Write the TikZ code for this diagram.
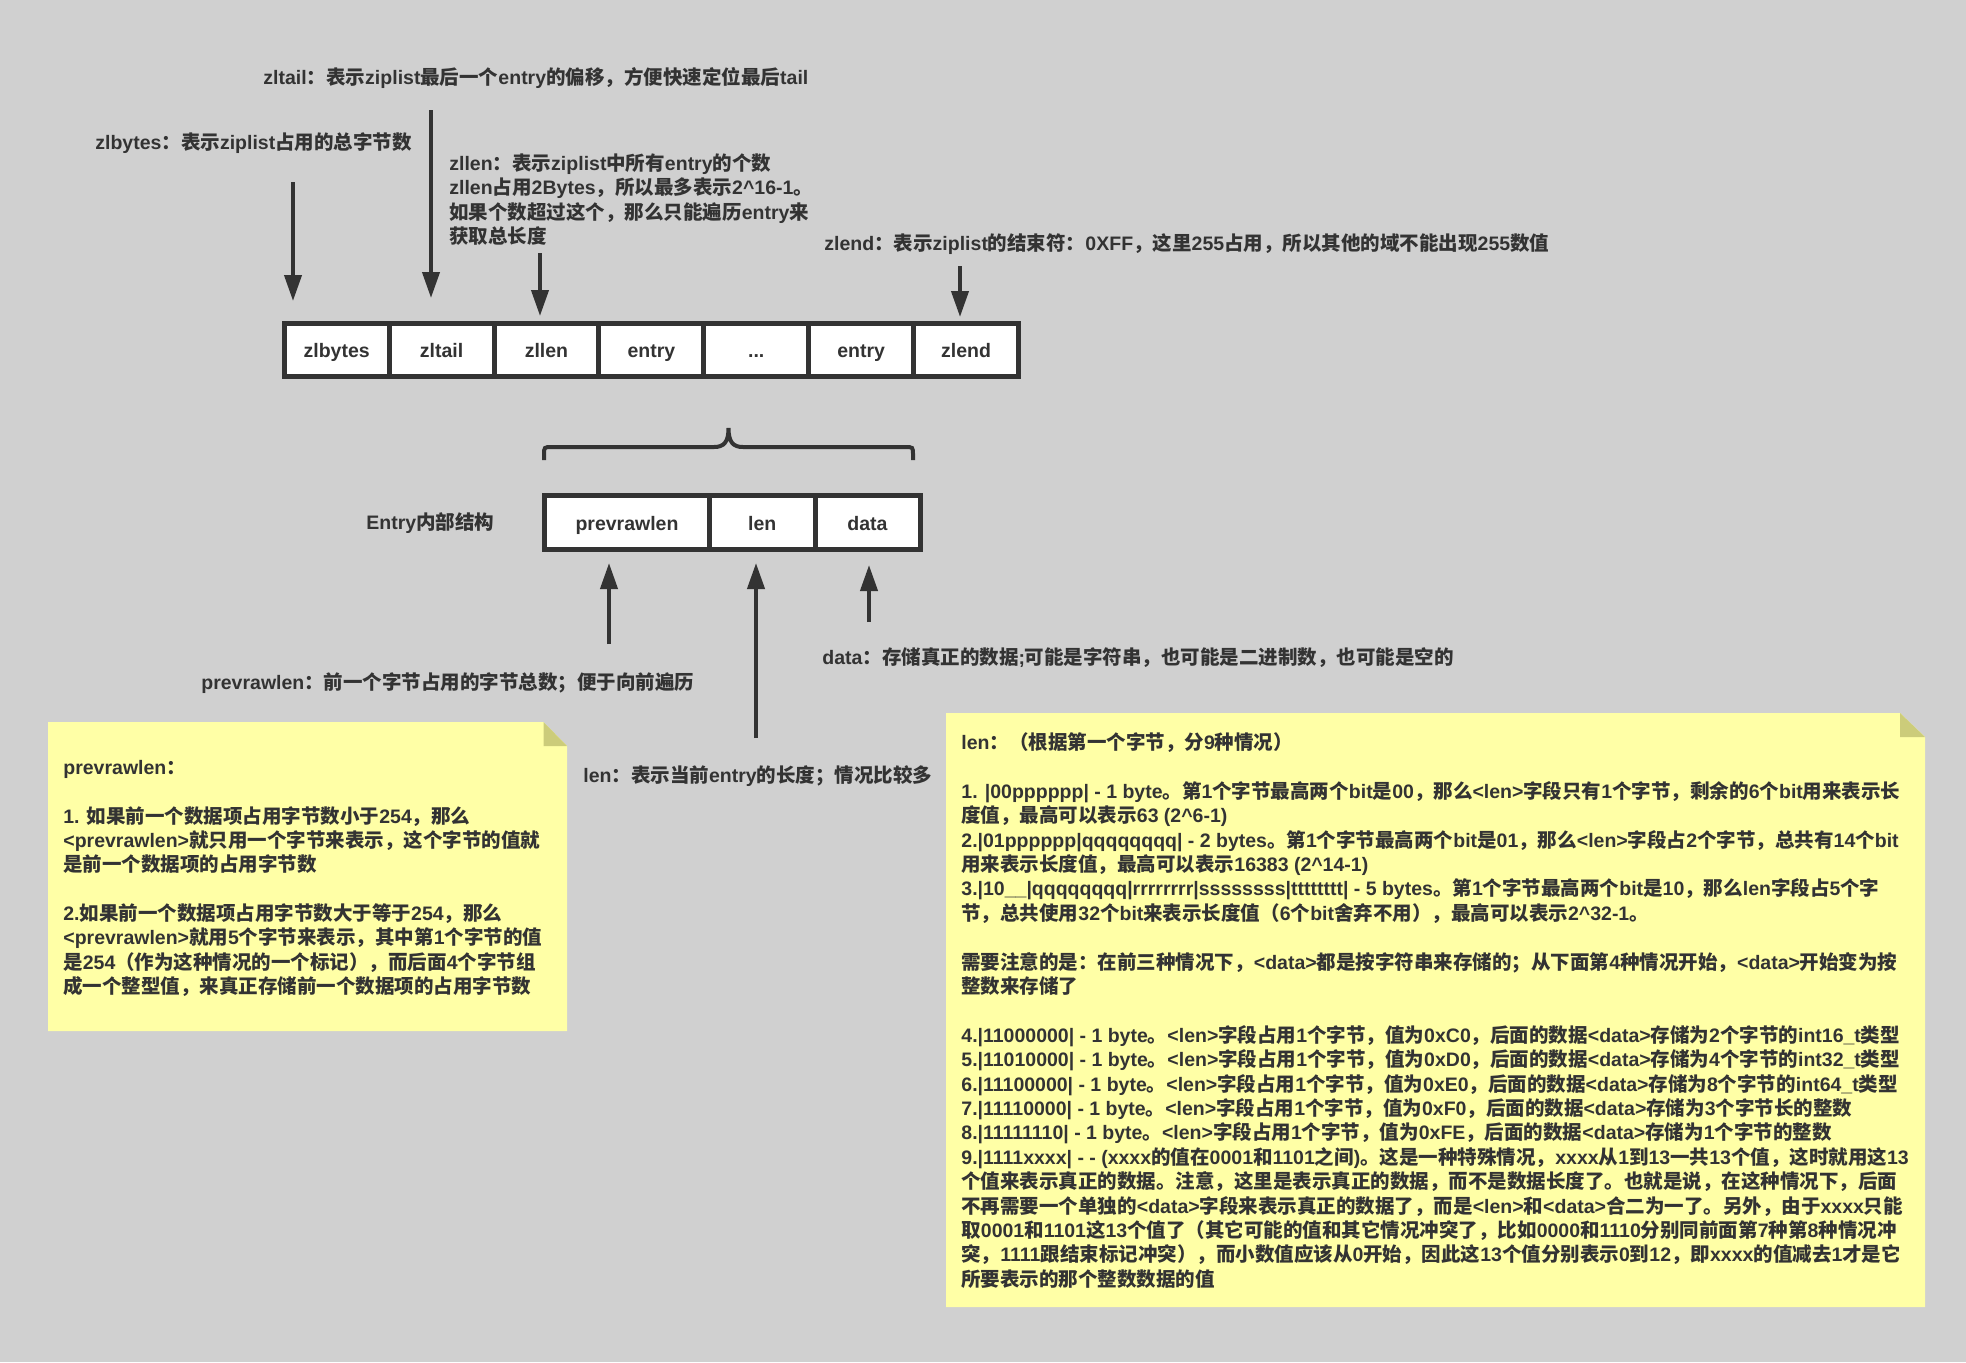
\documentclass[tikz,border=0pt]{standalone}
\usepackage{fontspec}
\setmainfont{Liberation Sans}
\newfontfamily\latinfont{Liberation Sans}
\newfontfamily\cjkfont{Noto Sans CJK SC}
\usetikzlibrary{arrows.meta,positioning}

\definecolor{ink}{RGB}{51,51,51}
\definecolor{canvas}{RGB}{208,208,208}
\definecolor{notefill}{RGB}{255,255,166}
\definecolor{notefold}{RGB}{204,204,122}

% ideographs and full-width punctuation use the CJK face
\newXeTeXintercharclass\cjkclass
\makeatletter
\newcommand\cjkrange[2]{\count@=#1\relax
  \loop\XeTeXcharclass\count@=\cjkclass
    \ifnum\count@<#2\relax\advance\count@\@ne\repeat}
\cjkrange{"3000}{"303F}
\cjkrange{"4E00}{"9FFF}
\cjkrange{"FF00}{"FFEF}
\makeatother
\XeTeXinterchartoks 0 \cjkclass = {\cjkfont}
\XeTeXinterchartoks 4095 \cjkclass = {\cjkfont}
\XeTeXinterchartoks \cjkclass 0 = {\latinfont}
\XeTeXinterchartoks 4095 0 = {\latinfont}
\XeTeXinterchartokenstate=1

\newcommand\lblfont{\fontsize{9.75}{12.2}\selectfont\bfseries}
\newcommand\firstline{\rule{0pt}{10pt}}
\newcommand\threedots{...}

\begin{document}
\begin{tikzpicture}[x=0.5pt, y=-0.5pt,
  lbl/.style={font=\lblfont, text=ink, inner sep=0pt},
  cell/.style={lbl, draw=ink, line width=2.5pt, fill=white,
    outer sep=0pt, minimum height=26.5pt, text height=9pt, text depth=1.5pt},
  arr/.style={draw=ink, line width=2pt,
    -{Triangle[length=13pt,width=8.5pt]}},
  note/.style={fill=notefill},
  fold/.style={fill=notefold}]
  \useasboundingbox (0,0) rectangle (1966,1362);
  \fill[canvas] (0,0) rectangle (1966,1362);

  % ziplist
  \foreach \n/\t [count=\i from 0] in {zlbytes/zlbytes, zltail/zltail,
      zllen/zllen, entry1/entry, dots/\threedots, entryN/entry, zlend/zlend}
    \node[cell, minimum width=52.45pt] (\n) at ({336.65+104.9*\i},350) {\t};

  \node[lbl, anchor=base west] (zltail-txt) at (263,84.5)
        {zltail：表示ziplist最后一个entry的偏移，方便快速定位最后tail};
  \node[lbl, anchor=base west] (zlbytes-txt) at (95,149)
        {zlbytes：表示ziplist占用的总字节数};
  \node[lbl, anchor=north west, align=left] (zllen-txt) at (449,150)
        {\firstline zllen：表示ziplist中所有entry的个数\\
         zllen占用2Bytes，所以最多表示2\textasciicircum16-1。\\
         如果个数超过这个，那么只能遍历entry来\\
         获取总长度};
  \node[lbl, anchor=base west] (zlend-txt) at (824,250)
        {zlend：表示ziplist的结束符：0XFF，这里255占用，所以其他的域不能出现255数值};

  \foreach \n/\x/\y/\s in {zlbytes/293/182/11.25pt, zltail/431/110/12.75pt,
      zllen/540/253/3.75pt, zlend/960/266/3.25pt} {
    \coordinate (\n-src) at (\x,\y);
    \draw[arr, shorten >=\s] (\n-src) -- (\n-src |- \n.north);
  }

  % entry layout
  \draw[ink, line width=2pt] (544,460) -- (544,455)
        .. controls (544,447) .. (552,447) -- (714,447)
        .. controls (724,447) and (728.5,442) .. (728.5,428)
        .. controls (728.5,442) and (733,447) .. (743,447) -- (905,447)
        .. controls (913,447) .. (913,455) -- (913,460);

  \node[cell, minimum width=82.5pt, minimum height=27pt] (prevrawlen)
        at (627,522.5) {prevrawlen};
  \node[cell, minimum width=52.75pt, minimum height=27pt,
        right=0pt of prevrawlen] (len) {len};
  \node[cell, minimum width=52.5pt, minimum height=27pt,
        right=0pt of len] (data) {data};
  \node[lbl, anchor=base west] (entry-txt) at (366,529) {Entry内部结构};

  \foreach \n/\x/\y/\s in {prevrawlen/609/644/6.75pt, len/756/738/6.75pt,
      data/869/622/7.75pt} {
    \coordinate (\n-src) at (\x,\y);
    \draw[arr, shorten >=\s] (\n-src) -- (\n-src |- \n.south);
  }

  \node[lbl, anchor=base west] (prevrawlen-txt) at (201,689.5)
        {prevrawlen：前一个字节占用的字节总数；便于向前遍历};
  \node[lbl, anchor=base west] (data-txt) at (822,664.5)
        {data：存储真正的数据;可能是字符串，也可能是二进制数，也可能是空的};
  \node[lbl, anchor=base west] (len-txt) at (583,782.5)
        {len：表示当前entry的长度；情况比较多};

  % notes
  \fill[note] (48,722) -- (543.5,722) -- (567,746) -- (567,1031)
        -- (48,1031) -- cycle;
  \fill[fold] (543.5,722) -- (567,746) -- (543.5,746) -- cycle;
  \node[lbl, anchor=north west, align=left] (prevrawlen-note) at (63,754)
        {\firstline prevrawlen：\\[12.1pt]
         1. 如果前一个数据项占用字节数小于254，那么\\
         <prevrawlen>就只用一个字节来表示，这个字节的值就\\
         是前一个数据项的占用字节数\\[12.1pt]
         2.如果前一个数据项占用字节数大于等于254，那么\\
         <prevrawlen>就用5个字节来表示，其中第1个字节的值\\
         是254（作为这种情况的一个标记），而后面4个字节组\\
         成一个整型值，来真正存储前一个数据项的占用字节数};

  \fill[note] (946,713) -- (1900,713) -- (1925,737) -- (1925,1307)
        -- (946,1307) -- cycle;
  \fill[fold] (1900,713) -- (1925,737) -- (1900,737) -- cycle;
  \node[lbl, anchor=north west, align=left] (len-note) at (961,729)
        {\firstline len：（根据第一个字节，分9种情况）\\[12.2pt]
         1. |00pppppp| - 1 byte。第1个字节最高两个bit是00，那么<len>字段只有1个字节，剩余的6个bit用来表示长\\
         度值，最高可以表示63 (2\textasciicircum6-1)\\
         2.|01pppppp|qqqqqqqq| - 2 bytes。第1个字节最高两个bit是01，那么<len>字段占2个字节，总共有14个bit\\
         用来表示长度值，最高可以表示16383 (2\textasciicircum14-1)\\
         3.|10\_\_|qqqqqqqq|rrrrrrrr|ssssssss|tttttttt| - 5 bytes。第1个字节最高两个bit是10，那么len字段占5个字\\
         节，总共使用32个bit来表示长度值（6个bit舍弃不用），最高可以表示2\textasciicircum32-1。\\[12.2pt]
         需要注意的是：在前三种情况下，<data>都是按字符串来存储的；从下面第4种情况开始，<data>开始变为按\\
         整数来存储了\\[12.2pt]
         4.|11000000| - 1 byte。<len>字段占用1个字节，值为0xC0，后面的数据<data>存储为2个字节的int16\_t类型\\
         5.|11010000| - 1 byte。<len>字段占用1个字节，值为0xD0，后面的数据<data>存储为4个字节的int32\_t类型\\
         6.|11100000| - 1 byte。<len>字段占用1个字节，值为0xE0，后面的数据<data>存储为8个字节的int64\_t类型\\
         7.|11110000| - 1 byte。<len>字段占用1个字节，值为0xF0，后面的数据<data>存储为3个字节长的整数\\
         8.|11111110| - 1 byte。<len>字段占用1个字节，值为0xFE，后面的数据<data>存储为1个字节的整数\\
         9.|1111xxxx| - - (xxxx的值在0001和1101之间)。这是一种特殊情况，xxxx从1到13一共13个值，这时就用这13\\
         个值来表示真正的数据。注意，这里是表示真正的数据，而不是数据长度了。也就是说，在这种情况下，后面\\
         不再需要一个单独的<data>字段来表示真正的数据了，而是<len>和<data>合二为一了。另外，由于xxxx只能\\
         取0001和1101这13个值了（其它可能的值和其它情况冲突了，比如0000和1110分别同前面第7种第8种情况冲\\
         突，1111跟结束标记冲突），而小数值应该从0开始，因此这13个值分别表示0到12，即xxxx的值减去1才是它\\
         所要表示的那个整数数据的值};
\end{tikzpicture}
\end{document}
